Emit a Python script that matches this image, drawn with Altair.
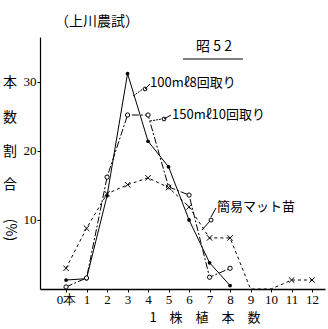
import altair as alt
import pandas as pd

# 1株植本数 (plants per hill)
x_vals = list(range(13))
s100 = [1.3, 1.5, 13.5, 31.2, 21.4, 17.7, 10.0, 3.8, 0.5]          # 100mℓ8回取り
s150 = [0.3, 1.6, 16.2, 25.2, 25.2, 14.8, 13.6, 1.7, 3.0]          # 150mℓ10回取り
smat = [3.0, 8.8, 13.8, 15.1, 16.1, 14.7, 11.9, 7.4, 7.4, 0.0, 0.0, 1.3, 1.3]  # 簡易マット苗
y_ticks = [10, 20, 30]

df1 = pd.DataFrame({"x": x_vals[:len(s100)], "y": s100})
df2 = pd.DataFrame({"x": x_vals[:len(s150)], "y": s150})
df3 = pd.DataFrame({"x": x_vals[:len(smat)], "y": smat})

SERIF = "Liberation Serif"
JP = "Noto Sans CJK JP"

xs = alt.Scale(domain=[-1.27, 12.63], nice=False, zero=False)
ys = alt.Scale(domain=[0, 36.5], nice=False)

xax = alt.Axis(values=x_vals, title=None, grid=False, tickSize=3,
               labelExpr="datum.value == 0 ? '0本' : datum.label",
               labelFont=SERIF, labelFontSize=13, labelColor="black",
               labelPadding=1, domainColor="black", tickColor="black",
               domainWidth=1.5, labelFlush=False)
yax = alt.Axis(values=y_ticks, title=None, grid=False, tickSize=3,
               labelFont=SERIF, labelFontSize=13, labelColor="black",
               labelPadding=1, domainColor="black", tickColor="black",
               domainWidth=1.2)

X = alt.X("x:Q", scale=xs, axis=xax)
Y = alt.Y("y:Q", scale=ys, axis=yax)

line1 = alt.Chart(df1).mark_line(color="black", strokeWidth=1).encode(x=X, y=Y)
pt1 = alt.Chart(df1).mark_point(filled=True, color="black", size=14, opacity=1).encode(x=X, y=Y)

line2 = alt.Chart(df2).mark_line(color="black", strokeWidth=1, strokeDash=[7, 2, 2, 2]).encode(x=X, y=Y)
pt2 = alt.Chart(df2).mark_point(filled=False, fill="white", color="black", size=18,
                                strokeWidth=1, opacity=1).encode(x=X, y=Y)

line3 = alt.Chart(df3).mark_line(color="black", strokeWidth=1, strokeDash=[3, 3]).encode(x=X, y=Y)
pt3 = alt.Chart(df3).transform_filter("datum.y > 0").mark_point(
    shape="M-1,-1L1,1M-1,1L1,-1", filled=False, color="black", size=30,
    strokeWidth=1, opacity=1).encode(x=X, y=Y)

dummy = pd.DataFrame({"a": [0]})


def txt(s, x, y, size=13, font=JP, align="center", angle=0):
    return alt.Chart(dummy).mark_text(
        text=s, fontSize=size, font=font, align=align, baseline="middle",
        angle=angle, color="black").encode(x=alt.value(x), y=alt.value(y))


def seg(x1, y1, x2, y2, dash=None):
    kw = {"color": "black", "strokeWidth": 1}
    if dash:
        kw["strokeDash"] = dash
    return alt.Chart(dummy).mark_rule(**kw).encode(
        x=alt.value(x1), y=alt.value(y1), x2=alt.value(x2), y2=alt.value(y2))


def ring(x, y, size=16):
    return alt.Chart(dummy).mark_point(filled=False, color="black", size=size,
                                       strokeWidth=1, opacity=1).encode(
        x=alt.value(x), y=alt.value(y))


annots = [
    txt("（上川農試）", 57, -15, 14),
    txt("昭 5 2", 174, 10, 14),
    seg(143, 22, 203, 22),
    txt("100mℓ8回取り", 110, 46, 13, align="left"),
    seg(93, 59, 103, 52, [2, 1]), ring(105, 52, 14), seg(105, 52, 110, 47),
    txt("150mℓ10回取り", 132, 78, 13, align="left"),
    seg(110, 84, 122, 82, [2, 1]), ring(124, 82, 14), seg(124, 82, 131, 78),
    txt("簡易マット苗", 177, 170, 13, align="left"),
    seg(162, 193, 170, 184), ring(171, 183, 16), seg(171, 180, 176, 171),
    # vertical y-axis title
    txt("本", -30, 46, 14), txt("数", -30, 81, 14), txt("割", -30, 115, 14),
    txt("合", -30, 148, 14), txt("(%)", -30, 193, 14, angle=90),
    txt("1　株　植　本　数", 165, 281, 13),
]

chart = alt.layer(line1, line2, line3, pt1, pt2, pt3, *annots).properties(
    width=285, height=252,
    autosize=alt.AutoSizeParams(type="none"),
    padding={"left": 40, "top": 37, "right": 3, "bottom": 40},
    background="white",
).configure_view(stroke=None)

chart.save("out.html", embed_options={"renderer": "svg", "actions": False})
